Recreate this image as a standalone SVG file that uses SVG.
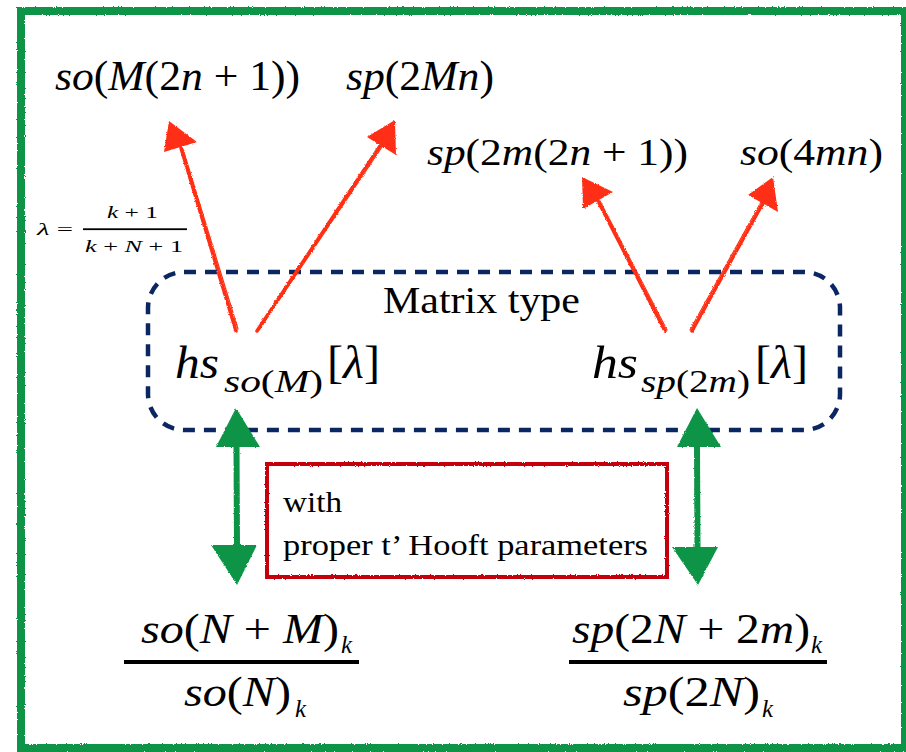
<svg xmlns="http://www.w3.org/2000/svg" width="906" height="752" viewBox="0 0 906 752">
<style>
.green{fill:#0c9447}
.red{fill:#ff2f12}
.redline{stroke:#ff2f12;stroke-linecap:round;fill:none}
.greenline{stroke:#0c9447;stroke-linecap:round;fill:none}
</style>
<defs>
<filter id="rough" filterUnits="userSpaceOnUse" x="0" y="0" width="906" height="752">
<feTurbulence type="fractalNoise" baseFrequency="0.9" numOctaves="2" seed="4" result="n"/>
<feDisplacementMap in="SourceGraphic" in2="n" scale="2.5" xChannelSelector="R" yChannelSelector="G"/>
</filter>
</defs>
<rect width="906" height="752" fill="#fff"/>
<g id="frame" filter="url(#rough)">
<rect x="21" y="11" width="884" height="737" fill="none" stroke="#0c9447" stroke-width="8"/>
</g>
<g font-family="Liberation Serif, Times New Roman, serif" fill="#000">
<g id="matrix-type">
<rect x="148" y="272" width="692" height="158" rx="36" ry="36" fill="none" stroke="#0b2762" stroke-width="4.5" stroke-dasharray="12 9"/>
<text x="383" y="313" font-size="38" textLength="197" lengthAdjust="spacingAndGlyphs">Matrix type</text>
</g>
<g id="so-M2n1">
<text x="55" y="90" font-size="43" textLength="245" lengthAdjust="spacingAndGlyphs"><tspan font-style="italic">so</tspan>(<tspan font-style="italic">M</tspan>(2<tspan font-style="italic">n</tspan> + 1))</text>
</g>
<g id="sp-2Mn">
<text x="346" y="90" font-size="43" textLength="148" lengthAdjust="spacingAndGlyphs"><tspan font-style="italic">sp</tspan>(2<tspan font-style="italic">Mn</tspan>)</text>
</g>
<g id="sp-2m2n1">
<text x="427" y="165" font-size="37" textLength="261" lengthAdjust="spacingAndGlyphs"><tspan font-style="italic">sp</tspan>(2<tspan font-style="italic">m</tspan>(2<tspan font-style="italic">n</tspan> + 1))</text>
</g>
<g id="so-4mn">
<text x="740" y="165" font-size="37" textLength="143" lengthAdjust="spacingAndGlyphs"><tspan font-style="italic">so</tspan>(4<tspan font-style="italic">mn</tspan>)</text>
</g>
<g id="lambda-def">
<text x="37" y="235" font-size="17" textLength="36" lengthAdjust="spacingAndGlyphs"><tspan font-style="italic">λ</tspan> =</text>
<text x="107" y="218" font-size="17" textLength="51" lengthAdjust="spacingAndGlyphs"><tspan font-style="italic">k</tspan> + 1</text>
<rect x="83" y="228.3" width="104" height="1.8" fill="#000"/>
<text x="85" y="252" font-size="17" textLength="98" lengthAdjust="spacingAndGlyphs"><tspan font-style="italic">k</tspan> + <tspan font-style="italic">N</tspan> + 1</text>
</g>
<g id="hs-so">
<text x="175" y="378" font-size="46" font-style="italic" textLength="44" lengthAdjust="spacingAndGlyphs">hs</text>
<text x="224" y="392" font-size="31" textLength="99" lengthAdjust="spacingAndGlyphs"><tspan font-style="italic">so</tspan>(<tspan font-style="italic">M</tspan>)</text>
<text x="327" y="378" font-size="46" textLength="53" lengthAdjust="spacingAndGlyphs">[<tspan font-style="italic">λ</tspan>]</text>
</g>
<g id="hs-sp">
<text x="592" y="378" font-size="46" font-style="italic" textLength="46" lengthAdjust="spacingAndGlyphs">hs</text>
<text x="641" y="392" font-size="31" textLength="109" lengthAdjust="spacingAndGlyphs"><tspan font-style="italic">sp</tspan>(2<tspan font-style="italic">m</tspan>)</text>
<text x="755" y="378" font-size="46" textLength="53" lengthAdjust="spacingAndGlyphs">[<tspan font-style="italic">λ</tspan>]</text>
</g>
<g id="note">
<rect x="267" y="464" width="400" height="113" fill="none" stroke="#c4000c" stroke-width="4" filter="url(#rough)"/>
<text x="283" y="512" font-size="30" textLength="59" lengthAdjust="spacingAndGlyphs">with</text>
<text x="283" y="555" font-size="30" textLength="365" lengthAdjust="spacingAndGlyphs">proper t’ Hooft parameters</text>
</g>
<g id="frac-so">
<text x="141" y="643" font-size="42" textLength="198" lengthAdjust="spacingAndGlyphs"><tspan font-style="italic">so</tspan>(<tspan font-style="italic">N</tspan> + <tspan font-style="italic">M</tspan>)</text>
<text x="341" y="653" font-size="25" font-style="italic">k</text>
<rect x="124" y="660" width="235" height="4" fill="#000"/>
<text x="184" y="706" font-size="42" textLength="107" lengthAdjust="spacingAndGlyphs"><tspan font-style="italic">so</tspan>(<tspan font-style="italic">N</tspan>)</text>
<text x="295" y="717" font-size="25" font-style="italic">k</text>
</g>
<g id="frac-sp">
<text x="572" y="643" font-size="42" textLength="238" lengthAdjust="spacingAndGlyphs"><tspan font-style="italic">sp</tspan>(2<tspan font-style="italic">N</tspan> + 2<tspan font-style="italic">m</tspan>)</text>
<text x="811" y="653" font-size="25" font-style="italic">k</text>
<rect x="569" y="660" width="258" height="4" fill="#000"/>
<text x="623" y="706" font-size="42" textLength="137" lengthAdjust="spacingAndGlyphs"><tspan font-style="italic">sp</tspan>(2<tspan font-style="italic">N</tspan>)</text>
<text x="762" y="717" font-size="25" font-style="italic">k</text>
</g>
</g>
<g id="connectors" filter="url(#rough)">
<g id="arrow-so-M2n1">
<path class="redline" stroke-width="3.5" d="M236 331 L181 148"/>
<path class="redline" stroke-width="1.2" d="M238 329 L183 149"/>
<polygon class="red" points="169,121 164,152 197,142"/>
</g>
<g id="arrow-sp-2Mn">
<path class="redline" stroke-width="3.5" d="M257 331 L380 146"/>
<path class="redline" stroke-width="1.2" d="M259 330 L382 147"/>
<polygon class="red" points="395,120 367,137 396,155"/>
</g>
<g id="arrow-sp-2m2n1">
<path class="redline" stroke-width="3.5" d="M665 331 L598 201"/>
<path class="redline" stroke-width="1.2" d="M667 330 L600 201"/>
<polygon class="red" points="582,177 583,209 613,192"/>
</g>
<g id="arrow-so-4mn">
<path class="redline" stroke-width="3.5" d="M692 331 L763 203"/>
<path class="redline" stroke-width="1.2" d="M690 330 L761 202"/>
<polygon class="red" points="773,177 748,195 778,212"/>
</g>
<g id="arrow-left-double">
<path class="greenline" stroke-width="6" d="M236.5 445 L237 548"/>
<polygon class="green" points="236,408 216,447 260,447"/>
<polygon class="green" points="211,545 257,545 237,585"/>
</g>
<g id="arrow-right-double">
<path class="greenline" stroke-width="6" d="M697 445 L697.5 549"/>
<polygon class="green" points="697,408 677,447 721,447"/>
<polygon class="green" points="672,547 718,547 698,585"/>
</g>
</g>
</svg>
